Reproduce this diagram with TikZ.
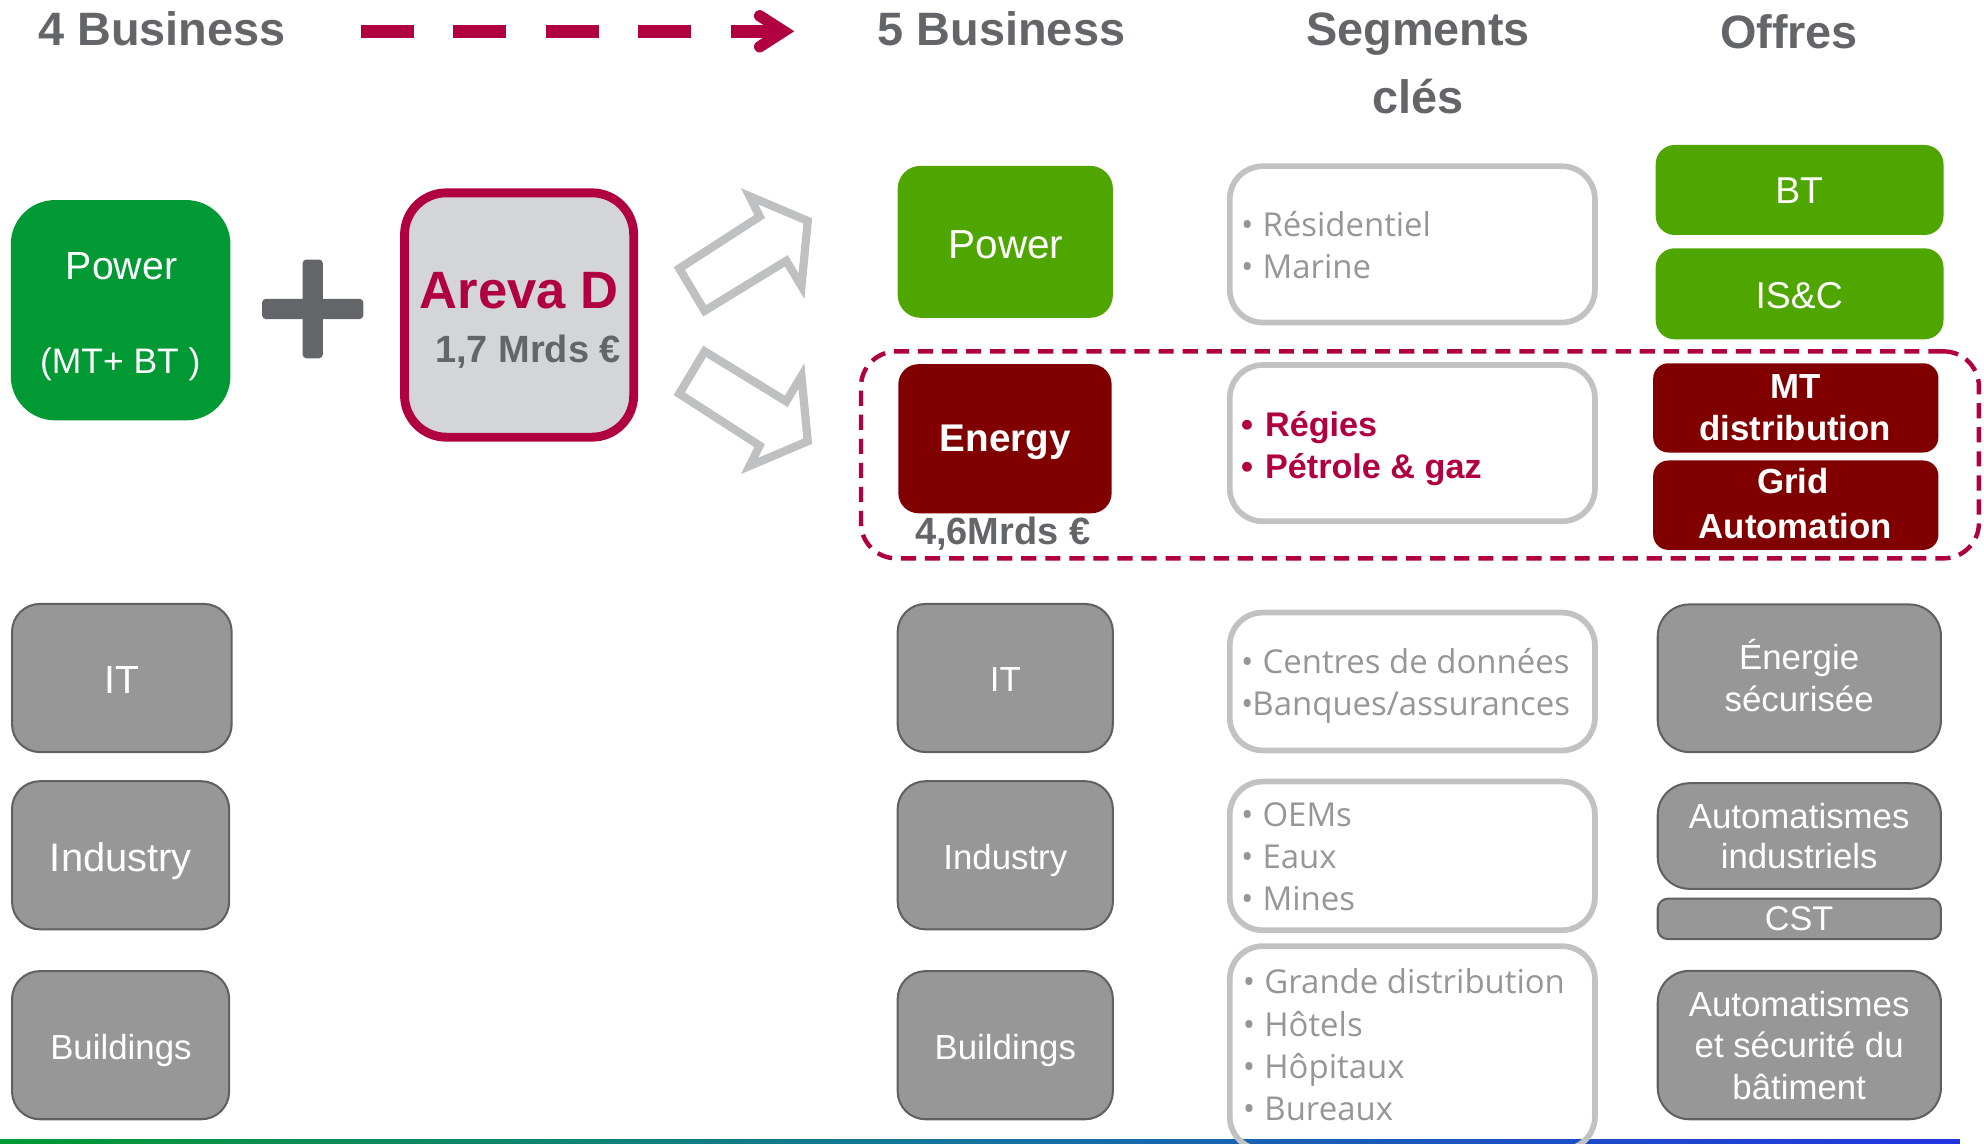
\documentclass[tikz,border=0pt]{standalone}
\usepackage{fontspec}
\setmainfont{Liberation Sans}
\newfontfamily\segfont{Open Sans}
\usetikzlibrary{fit}
\definecolor{hdrgray}{RGB}{99,101,105}
\definecolor{crim}{RGB}{177,0,64}
\definecolor{gA}{RGB}{0,153,51}
\definecolor{gB}{RGB}{79,166,0}
\definecolor{dred}{RGB}{128,0,0}
\definecolor{bgray}{RGB}{151,151,151}
\definecolor{bedge}{RGB}{95,96,100}
\definecolor{lgray}{RGB}{194,194,194}
\definecolor{stext}{RGB}{150,150,150}
\definecolor{afill}{RGB}{212,213,215}
\definecolor{arrgray}{RGB}{191,192,194}
\definecolor{lineblue}{RGB}{34,52,225}
\definecolor{lineteal}{RGB}{20,115,160}
\newcommand\fsz[1]{\fontsize{#1}{#1}\selectfont}
\begin{document}
\begin{tikzpicture}[x=1pt,y=-1pt,
  hdr/.style={font=\bfseries\fsz{37}, text=hdrgray, anchor=base, inner sep=0pt},
  txt/.style={anchor=base, inner sep=0pt},
  wtxt/.style={anchor=base, inner sep=0pt, text=white},
  segtxt/.style={anchor=base west, inner sep=0pt, text=stext, font=\segfont\fsz{26}},
  redtxt/.style={anchor=base west, inner sep=0pt, text=crim, font=\bfseries\fsz{27}},
  greenbox/.style={inner sep=0pt, fill=gB, rounded corners=18pt},
  redbox/.style={inner sep=0pt, fill=dred, rounded corners=16pt},
  graybox/.style={inner sep=0pt, fill=bgray, draw=bedge, line width=1.6pt, rounded corners=22pt},
  segbox/.style={inner sep=0pt, draw=lgray, line width=4.5pt, rounded corners=26pt},
  hollow/.style={draw=arrgray, line width=6.5pt, fill=white, line join=miter}
]
\useasboundingbox (0,0) rectangle (1567,903);

% bottom gradient line
\shade[left color=gA, right color=lineblue, middle color=lineteal] (0,900) rectangle (1548,903.5);

% headers
\node[hdr] (h4) at (128,36.3) {4 Business};
\node[hdr] (h5) at (791,36.3) {5 Business};
\node[hdr] (hseg1) at (1120,36.3) {Segments};
\node[hdr] (hseg2) at (1120,90) {clés};
\node[hdr] (hoff) at (1413,38.5) {Offres};

% dashed header arrow
\coordinate (da0) at (285,24.7);
\coordinate (da1) at (546,24.7);
\coordinate (da2) at (577,24.7);
\coordinate (da3) at (619,24.7);
\draw[crim, line width=10pt, dash pattern=on 42pt off 31pt] (da0) -- (da1);
\draw[crim, line width=10pt] (da2) -- (da3);
\draw[crim, line width=9pt, line cap=round, miter limit=10] (600,12.5) -- (da3) -- (600,36.9);

% left column
\node[fit={(8.5,158) (182,332)}, inner sep=0pt, fill=gA, rounded corners=35pt] (lpow) {};
\node[wtxt, font=\fsz{31}] (lpowt1) at (96,221) {Power};
\node[wtxt, font=\fsz{28}] (lpowt2) at (95,295) {(MT+ BT )};

\fill[hdrgray, rounded corners=3pt] (207,236) rectangle (287,252);
\fill[hdrgray, rounded corners=3pt] (239,205) rectangle (255,283);

\node[fit={(319.5,152.3) (500.5,345.3)}, inner sep=0pt, fill=afill, draw=crim, line width=7pt, rounded corners=33pt] (areva) {};
\node[txt, font=\bfseries\fsz{41.5}, text=crim] (arevat) at (410,243.5) {Areva D};
\node[txt, font=\bfseries\fsz{30}, text=hdrgray] (arevam) at (417,286) {1,7 Mrds €};

\node[graybox, fit={(9.5,477) (183,594)}] (lit) {};
\node[wtxt, font=\fsz{31}] (litt) at (96,547.5) {IT};
\node[graybox, fit={(9.5,617) (181,734)}] (lind) {};
\node[wtxt, font=\fsz{31.5}] (lindt) at (95.5,688) {Industry};
\node[graybox, fit={(9.5,767) (181,884)}] (lbui) {};
\node[wtxt, font=\fsz{27.5}] (lbuit) at (95.5,837) {Buildings};

% hollow arrows
\draw[hollow] (536.5,212) -- (600,171) -- (592,155) -- (638,174.5) -- (633,226) -- (621,206) -- (556.5,245.5) -- cycle;
\draw[hollow] (536.5,311) -- (600,352) -- (592,368) -- (638,348.5) -- (633,297) -- (621,317) -- (556.5,277.5) -- cycle;

% middle column
\node[greenbox, fit={(709,131) (879,251)}] (mpow) {};
\node[wtxt, font=\fsz{32}] (mpowt) at (794.5,204) {Power};
\node[redbox, fit={(709.5,287.6) (878,405.4)}] (meng) {};
\node[wtxt, font=\bfseries\fsz{30.5}] (mengt) at (794,356.8) {Energy};
\node[txt, font=\bfseries\fsz{30}, text=hdrgray] (mengm) at (792,430.4) {4,6Mrds €};
\node[graybox, fit={(709,477) (879,594)}] (mit) {};
\node[wtxt, font=\fsz{27.5}] (mitt) at (794,546) {IT};
\node[graybox, fit={(709,617) (879,734)}] (mind) {};
\node[wtxt, font=\fsz{27.5}] (mindt) at (794,686.7) {Industry};
\node[graybox, fit={(709,767) (879,884)}] (mbui) {};
\node[wtxt, font=\fsz{27.5}] (mbuit) at (794,837) {Buildings};

% dashed energy frame
\node[fit={(680,277.5) (1563,441)}, inner sep=0pt, draw=crim, line width=3.5pt, dash pattern=on 12pt off 7pt, rounded corners=28pt] (frame) {};

% segments
\node[segbox, fit={(971.3,131.3) (1259.7,254.7)}] (s1) {};
\node[segtxt] (s1a) at (980,187) {\makebox[17pt][l]{•}Résidentiel};
\node[segtxt] (s1b) at (980,219.8) {\makebox[17pt][l]{•}Marine};
\node[segbox, fit={(971.3,288.3) (1259.7,411.7)}] (s2) {};
\node[redtxt] (s2a) at (980,344.8) {\makebox[19pt][l]{•}Régies};
\node[redtxt] (s2b) at (980,377.7) {\makebox[19pt][l]{•}Pétrole \& gaz};
\node[segbox, fit={(971.3,483.8) (1259.7,592.7)}] (s3) {};
\node[segtxt] (s3a) at (980,532.3) {\makebox[17pt][l]{•}Centres de données};
\node[segtxt] (s3b) at (980,564.9) {\makebox[9pt][l]{•}Banques/assurances};
\node[segbox, fit={(971.3,617.3) (1259.7,734.7)}] (s4) {};
\node[segtxt] (s4a) at (980,652.6) {\makebox[17pt][l]{•}OEMs};
\node[segtxt] (s4b) at (980,686) {\makebox[17pt][l]{•}Eaux};
\node[segtxt] (s4c) at (980,719.5) {\makebox[17pt][l]{•}Mines};
\node[segbox, fit={(971.3,747.3) (1259.7,908)}] (s5) {};
\node[segtxt] (s5a) at (981.5,785) {\makebox[17pt][l]{•}Grande distribution};
\node[segtxt] (s5b) at (981.5,818.4) {\makebox[17pt][l]{•}Hôtels};
\node[segtxt] (s5c) at (981.5,851.8) {\makebox[17pt][l]{•}Hôpitaux};
\node[segtxt] (s5d) at (981.5,885) {\makebox[17pt][l]{•}Bureaux};

% offres
\node[greenbox, rounded corners=15pt, fit={(1307.7,114.5) (1535,185.6)}] (oBT) {};
\node[wtxt, font=\fsz{29.5}] (oBTt) at (1421,160.6) {BT};
\node[greenbox, rounded corners=15pt, fit={(1307.7,196.1) (1535,268)}] (oIS) {};
\node[wtxt, font=\fsz{29.5}] (oISt) at (1421,243.5) {IS\&C};
\node[redbox, rounded corners=12pt, fit={(1305.7,286.9) (1531,357.4)}] (oMT) {};
\node[wtxt, font=\bfseries\fsz{27.5}] (oMTa) at (1418,315) {MT};
\node[wtxt, font=\bfseries\fsz{27.5}] (oMTb) at (1418,348.2) {distribution};
\node[redbox, rounded corners=12pt, fit={(1305.7,363.7) (1531,434.3)}] (oGA) {};
\node[wtxt, font=\bfseries\fsz{27.5}] (oGAa) at (1416,390) {Grid};
\node[wtxt, font=\bfseries\fsz{27.5}] (oGAb) at (1418,425) {Automation};

\node[graybox, rounded corners=25pt, fit={(1309.3,477.4) (1533,594)}] (oEN) {};
\node[wtxt, font=\fsz{27.5}] (oENa) at (1421,528.7) {Énergie};
\node[wtxt, font=\fsz{27.5}] (oENb) at (1421,562) {sécurisée};
\node[graybox, rounded corners=25pt, fit={(1309.3,618.6) (1533,702)}] (oAI) {};
\node[wtxt, font=\fsz{27.5}] (oAIa) at (1421,654) {Automatismes};
\node[wtxt, font=\fsz{27.5}] (oAIb) at (1421,686) {industriels};
\node[graybox, rounded corners=8pt, fit={(1309.3,709.8) (1533,741.7)}] (oCST) {};
\node[wtxt, font=\fsz{27}] (oCSTt) at (1421,735) {CST};
\node[graybox, rounded corners=25pt, fit={(1309.3,766.8) (1533,884)}] (oAB) {};
\node[wtxt, font=\fsz{27.5}] (oABa) at (1421,803) {Automatismes};
\node[wtxt, font=\fsz{27.5}] (oABb) at (1421,835) {et sécurité du};
\node[wtxt, font=\fsz{27.5}] (oABc) at (1421,868.5) {bâtiment};
\end{tikzpicture}
\end{document}
